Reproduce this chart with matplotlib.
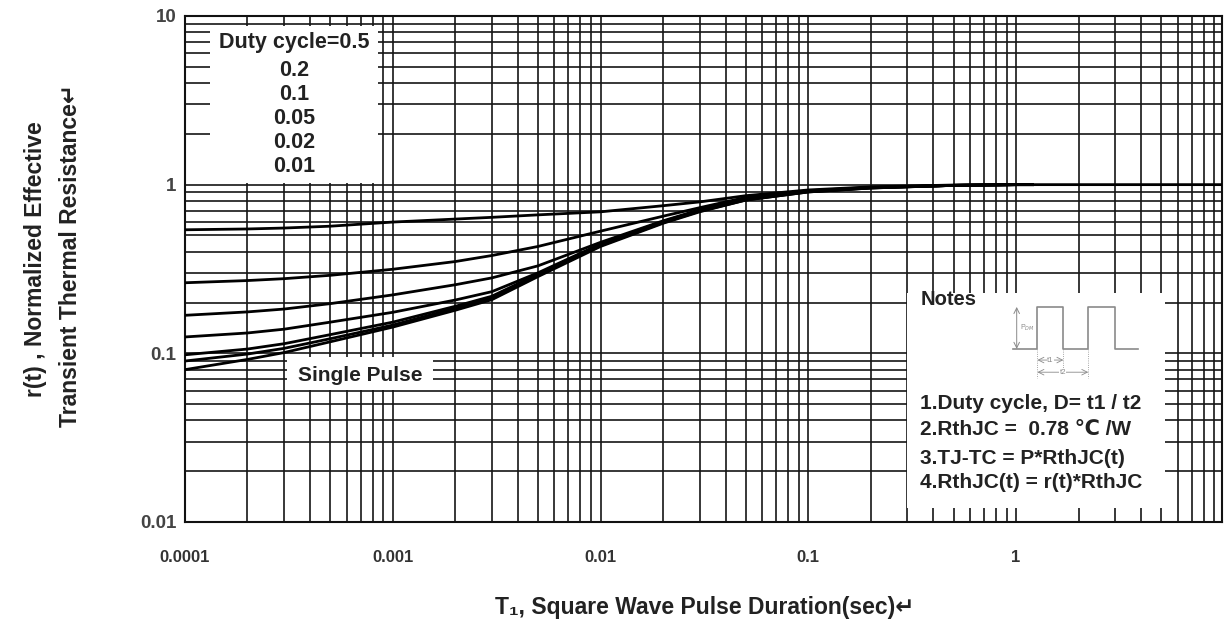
import matplotlib
matplotlib.use("Agg")
import matplotlib.pyplot as plt
from matplotlib.patches import Rectangle
from matplotlib.ticker import LogLocator, NullFormatter, FixedLocator, FixedFormatter

plt.rcParams['font.family'] = ['Liberation Sans', 'DejaVu Sans']

# pulse duration (sec)
t = [1e-4, 2e-4, 3e-4, 5e-4, 1e-3, 2e-3, 3e-3, 5e-3, 1e-2, 2e-2, 3e-2, 5e-2, 0.1, 0.2, 0.5, 1.0, 1.2]

# r(t) for each duty cycle
d05 = [0.540, 0.546, 0.553, 0.567, 0.600, 0.625, 0.640, 0.662, 0.690, 0.750, 0.790, 0.860, 0.930, 0.970, 0.995, 1.0, 1.0]
d02 = [0.262, 0.270, 0.277, 0.290, 0.315, 0.350, 0.380, 0.430, 0.530, 0.650, 0.730, 0.840, 0.920, 0.965, 0.990, 1.0, 1.0]
d01 = [0.168, 0.176, 0.183, 0.197, 0.222, 0.255, 0.280, 0.330, 0.455, 0.610, 0.710, 0.825, 0.915, 0.960, 0.990, 1.0, 1.0]
d005 = [0.125, 0.132, 0.139, 0.153, 0.175, 0.207, 0.232, 0.300, 0.445, 0.605, 0.705, 0.820, 0.910, 0.960, 0.990, 1.0, 1.0]
d002 = [0.098, 0.106, 0.114, 0.129, 0.153, 0.190, 0.218, 0.295, 0.440, 0.600, 0.700, 0.815, 0.910, 0.957, 0.990, 1.0, 1.0]
d001 = [0.090, 0.099, 0.107, 0.122, 0.147, 0.185, 0.213, 0.290, 0.435, 0.595, 0.695, 0.810, 0.905, 0.955, 0.990, 1.0, 1.0]

t_single = t + [9.8]
single = [0.080, 0.092, 0.101, 0.117, 0.143, 0.180, 0.208, 0.285, 0.430, 0.590, 0.690, 0.810, 0.905, 0.955, 0.990, 1.0, 1.0, 1.0]

xticks = [1e-4, 1e-3, 1e-2, 1e-1, 1]
xlabels = ['0.0001', '0.001', '0.01', '0.1', '1']
yticks = [0.01, 0.1, 1, 10]
ylabels = ['0.01', '0.1', '1', '10']

duty_text = ['Duty cycle=0.5', '0.2', '0.1', '0.05', '0.02', '0.01']
notes_text = ['1.Duty cycle, D= t1 / t2', '2.RthJC =  0.78 \u2103 /W',
              '3.TJ-TC = P*RthJC(t)', '4.RthJC(t) = r(t)*RthJC']

fig = plt.figure(figsize=(12.24, 6.24), dpi=100)
ax = fig.add_axes([0.1511, 0.1635, 0.8473, 0.8109])
ax.set_xscale('log')
ax.set_yscale('log')
ax.set_xlim(1e-4, 9.8)
ax.set_ylim(0.01, 10)

ax.xaxis.set_major_locator(FixedLocator(xticks))
ax.xaxis.set_major_formatter(FixedFormatter(xlabels))
ax.yaxis.set_major_locator(FixedLocator(yticks))
ax.yaxis.set_major_formatter(FixedFormatter(ylabels))
ax.xaxis.set_minor_locator(LogLocator(base=10, subs=range(2, 10), numticks=20))
ax.yaxis.set_minor_locator(LogLocator(base=10, subs=range(2, 10), numticks=20))
ax.xaxis.set_minor_formatter(NullFormatter())
ax.yaxis.set_minor_formatter(NullFormatter())
ax.tick_params(which='both', length=0)
ax.tick_params(axis='x', pad=20)
ax.tick_params(axis='y', pad=6)
for lab in ax.get_xticklabels():
    lab.set_fontsize(12)
    lab.set_fontweight('bold')
    lab.set_color('#333333')
for lab in ax.get_yticklabels():
    lab.set_fontsize(13.5)
    lab.set_fontweight('bold')
    lab.set_color('#444444')

ax.set_axisbelow(True)
ax.grid(True, which='both', color='#151515', linewidth=1.2)
for s in ax.spines.values():
    s.set_linewidth(1.5)
    s.set_color('#111111')

# white boxes that cut the grid
box_kw = dict(transform=ax.transAxes, facecolor='white', edgecolor='none', zorder=1)
ax.add_patch(Rectangle((0.024, 0.670), 0.162, 0.310, **box_kw))
ax.add_patch(Rectangle((0.098, 0.261), 0.141, 0.065, **box_kw))
ax.add_patch(Rectangle((0.696, 0.028), 0.249, 0.425, **box_kw))

lw = 2.0
for vals in [d05, d02, d01, d005, d002, d001]:
    ax.plot(t, vals, color='black', linewidth=lw, zorder=3)
ax.plot(t_single, single, color='black', linewidth=lw, zorder=3)

duty_y = [0.947, 0.893, 0.844, 0.798, 0.749, 0.702]
for txt, yy in zip(duty_text, duty_y):
    ax.text(0.105, yy, txt, transform=ax.transAxes, ha='center', va='center',
            fontsize=15.5, fontweight='bold', color='#222222', zorder=4)

ax.text(0.169, 0.290, 'Single Pulse', transform=ax.transAxes, ha='center', va='center',
        fontsize=15, fontweight='bold', color='#222222', zorder=4)

ax.text(0.709, 0.440, 'Notes', transform=ax.transAxes, ha='left', va='center',
        fontsize=14.5, fontweight='bold', color='#222222', zorder=4)
notes_y = [0.235, 0.182, 0.126, 0.079]
for txt, yy in zip(notes_text, notes_y):
    ax.text(0.709, yy, txt, transform=ax.transAxes, ha='left', va='center',
            fontsize=15, fontweight='bold', color='#222222', zorder=4)

# small pulse sketch in the notes box
gray = '#8a8a8a'
px = [0.798, 0.822, 0.822, 0.847, 0.847, 0.871, 0.871, 0.897, 0.897, 0.919]
py = [0.342, 0.342, 0.425, 0.425, 0.342, 0.342, 0.425, 0.425, 0.342, 0.342]
ax.plot(px, py, transform=ax.transAxes, color=gray, linewidth=1.2, zorder=4)
ax.annotate('', xy=(0.802, 0.425), xytext=(0.802, 0.342), xycoords='axes fraction',
            arrowprops=dict(arrowstyle='<->', color=gray, lw=0.7, shrinkA=0, shrinkB=0), zorder=4)
ax.text(0.805, 0.384, 'P$_{DM}$', transform=ax.transAxes, fontsize=5, color=gray,
        ha='left', va='center', zorder=4)
ax.plot([0.847, 0.847], [0.342, 0.305], transform=ax.transAxes, color=gray,
        linewidth=0.6, linestyle=':', zorder=4)
ax.plot([0.871, 0.871], [0.342, 0.285], transform=ax.transAxes, color=gray,
        linewidth=0.6, linestyle=':', zorder=4)
ax.plot([0.822, 0.822], [0.342, 0.285], transform=ax.transAxes, color=gray,
        linewidth=0.6, linestyle=':', zorder=4)
ax.annotate('', xy=(0.822, 0.320), xytext=(0.847, 0.320), xycoords='axes fraction',
            arrowprops=dict(arrowstyle='<->', color=gray, lw=0.6, shrinkA=0, shrinkB=0), zorder=4)
ax.annotate('', xy=(0.822, 0.296), xytext=(0.871, 0.296), xycoords='axes fraction',
            arrowprops=dict(arrowstyle='<->', color=gray, lw=0.6, shrinkA=0, shrinkB=0), zorder=4)
ax.text(0.8345, 0.320, 't1', transform=ax.transAxes, fontsize=5.5, color=gray, ha='center',
        va='center', zorder=5, bbox=dict(facecolor='white', edgecolor='none', pad=0.3))
ax.text(0.8465, 0.296, 't2', transform=ax.transAxes, fontsize=5.5, color=gray, ha='center',
        va='center', zorder=5, bbox=dict(facecolor='white', edgecolor='none', pad=0.3))

fig.text(0.576, 0.027, 'T\u2081, Square Wave Pulse Duration(sec)\u21b5', ha='center', va='center',
         fontsize=16.5, fontweight='bold', color='#222222')
fig.text(0.029, 0.585, 'r(t) , Normalized Effective', rotation=90, ha='center', va='center',
         fontsize=16.5, fontweight='bold', color='#222222')
fig.text(0.058, 0.590, 'Transient Thermal Resistance\u21b5', rotation=90, ha='center', va='center',
         fontsize=16.5, fontweight='bold', color='#222222')

fig.savefig('out.png', dpi=100)
